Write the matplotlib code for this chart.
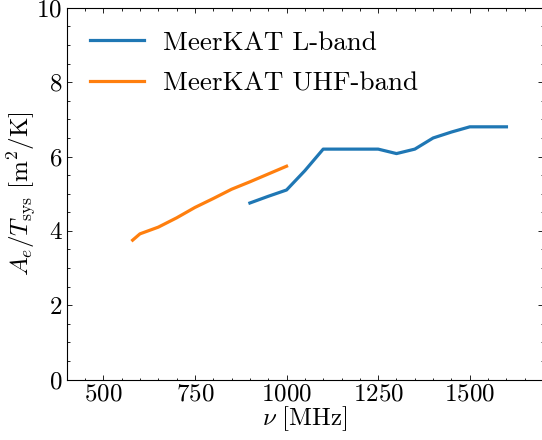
import numpy as np
from matplotlib import pyplot as plt
from matplotlib.ticker import MultipleLocator

# sensitivity curves (A_e / T_sys in m^2/K vs frequency in MHz)
lband_freq = [900, 950, 1000, 1050, 1100, 1150, 1200, 1250, 1300, 1350, 1400, 1450, 1500, 1550, 1600]
lband_sens = [4.75, 4.93, 5.1, 5.62, 6.2, 6.2, 6.2, 6.2, 6.08, 6.2, 6.5, 6.66, 6.8, 6.8, 6.8]

uhf_freq = [580, 600, 650, 700, 750, 800, 850, 900, 950, 1000]
uhf_sens = [3.75, 3.92, 4.1, 4.35, 4.63, 4.87, 5.12, 5.32, 5.53, 5.74]

labels = ["MeerKAT L-band", "MeerKAT UHF-band"]

plt.rcParams["font.family"] = "serif"
plt.rcParams["font.serif"] = ["cmr10"]
plt.rcParams["mathtext.fontset"] = "cm"
plt.rcParams["axes.formatter.use_mathtext"] = True
plt.rcParams["font.size"] = 18

fig = plt.figure(figsize=(5.42, 4.40), dpi=100)
ax = fig.add_axes([0.123, 0.1375, 0.879, 0.8445])

ax.plot(lband_freq, lband_sens, color="#1f77b4", lw=2.3, label=labels[0])
ax.plot(uhf_freq, uhf_sens, color="#ff7f0e", lw=2.3, label=labels[1])

ax.set_xlim(400, 1700)
ax.set_ylim(0, 10)
ax.xaxis.set_major_locator(MultipleLocator(250))
ax.xaxis.set_minor_locator(MultipleLocator(50))
ax.yaxis.set_major_locator(MultipleLocator(2))
ax.yaxis.set_minor_locator(MultipleLocator(0.5))
ax.tick_params(which="both", direction="in", top=True, right=True, width=0.6)
ax.tick_params(which="major", length=3.5, pad=3)
ax.tick_params(which="minor", length=1.8)
for s in ax.spines.values():
    s.set_linewidth(0.8)

ax.set_xlabel(r"$\nu\ [{\rm MHz}]$", labelpad=-1)
ax.set_ylabel(r"$A_e/T_{\rm sys}\ [{\rm m}^2/{\rm K}]$", labelpad=-1)

ax.legend(loc="upper left", frameon=False, fontsize=19.5, handlelength=2.0,
          handletextpad=0.7, labelspacing=0.62, borderaxespad=0.45)

fig.savefig("out.png", dpi=100)
